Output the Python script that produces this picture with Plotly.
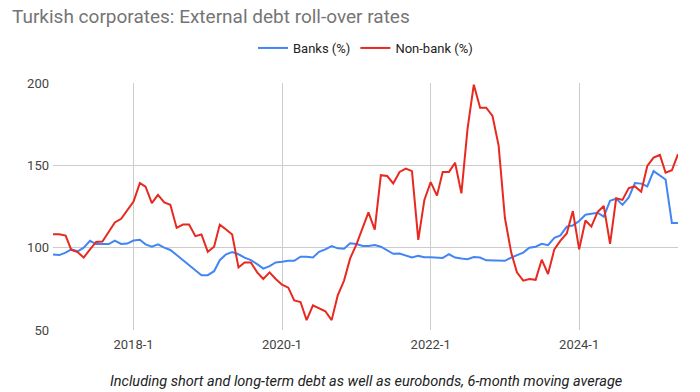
import plotly.graph_objects as go
import pandas as pd

months = pd.date_range("2016-12-01", periods=102, freq="MS")

banks = [95.8, 95.5, 97, 99, 97.8, 100, 104.2, 102.2, 102.2, 102.2,
         104.3, 102.3, 102.5, 104.3, 104.8, 102, 100.6, 102, 100, 98.6,
         95.5, 92.4, 89.4, 86, 83.3, 83.3, 85.7, 92.4, 96, 97.3,
         96, 94, 92.4, 90, 87.3, 88.8, 91, 91.4, 92, 92,
         94.5, 94.5, 94, 97.5, 99, 101, 99.6, 99.4, 102.7, 102.2,
         101, 101, 101.6, 100.6, 98.6, 96.3, 96.5, 95, 94, 95,
         94.2, 94.2, 93.8, 93.8, 96, 94, 93.4, 93, 94.3, 94,
         92.3, 92.3, 92.2, 92, 94, 95.3, 97, 100, 100.6, 102.3,
         101.5, 106, 107.5, 112.8, 113.5, 116.2, 120, 120.6, 121.2, 118.8,
         128.5, 129.8, 126, 130.5, 139.2, 138.9, 137.2, 146.5, 143.8, 141.4,
         115, 115]

nonbank = [108.2, 108.2, 107.3, 98.6, 97.3, 94, 99, 103.5, 103.7, 110,
           115.3, 117.5, 123, 128, 139.2, 137, 127, 132, 127.5, 126,
           112, 114, 114, 107, 108, 97.5, 100.6, 114, 111, 108,
           88, 91, 91, 85, 81, 85, 81, 77.5, 75.7, 68,
           67, 56, 65, 63, 61.4, 56, 71, 80, 93.5, 102,
           112, 121.4, 111, 144, 143.5, 139, 146, 148, 146.5, 104.7,
           129, 139.8, 131.6, 146, 146, 151.6, 133, 172, 199, 185,
           185, 180, 162, 118, 97, 85, 80, 81, 80.5, 92.7,
           84, 99, 104.3, 108.6, 122.2, 99, 116.5, 112.8, 121.7, 125.3,
           102.3, 130, 129, 136.2, 137.2, 134, 149.6, 154.7, 156.3, 145.5,
           147, 156.8]

tick_dates = ["2018-01-01", "2020-01-01", "2022-01-01", "2024-01-01"]
tick_labels = ["2018-1", "2020-1", "2022-1", "2024-1"]
y_ticks = [50, 100, 150, 200]

FONT = "Roboto, Arial, sans-serif"

fig = go.Figure()
fig.add_trace(go.Scatter(x=months, y=banks, mode="lines", name="Banks (%)",
                         line=dict(color="#4285F4", width=2)))
fig.add_trace(go.Scatter(x=months, y=nonbank, mode="lines", name="Non-bank (%)",
                         line=dict(color="#E8291F", width=2)))

fig.update_layout(
    width=700, height=392,
    margin=dict(l=53, r=22, t=83, b=62),
    paper_bgcolor="white", plot_bgcolor="white",
    font=dict(family=FONT, size=13, color="#444444"),
    title=dict(text="Turkish corporates: External debt roll-over rates",
               x=12/700, xanchor="left", xref="container",
               y=1-16/392, yanchor="middle", yref="container",
               font=dict(family=FONT, size=19, color="#757575")),
    legend=dict(orientation="h", x=0.5, xanchor="center", y=1+(83-48)/247,
                yanchor="middle", font=dict(size=13, color="#222222"),
                itemwidth=30, traceorder="normal"),
    showlegend=True,
    annotations=[dict(text="<i>Including short and long-term debt as well as eurobonds, 6-month moving average</i>",
                      x=0.5, xref="paper", xanchor="center",
                      y=-51/247, yref="paper", yanchor="middle",
                      showarrow=False, font=dict(family=FONT, size=14.5, color="#222222"))],
)
fig.update_xaxes(type="date", range=[months[0], months[-1]],
                 tickvals=tick_dates, ticktext=tick_labels,
                 showgrid=True, gridcolor="#CCCCCC", gridwidth=1,
                 zeroline=False, showline=False, ticks="",
                 ticklabelstandoff=5,
                 tickfont=dict(size=13, color="#444444"))
fig.update_yaxes(range=[50, 200], tickvals=y_ticks,
                 showgrid=True, gridcolor="#CCCCCC", gridwidth=1,
                 zeroline=False, showline=False, ticks="",
                 ticklabelstandoff=3,
                 tickfont=dict(size=13, color="#444444"))

fig.write_html("out.html", config={"displayModeBar": False},
               post_script="document.body.style.margin='0';")
